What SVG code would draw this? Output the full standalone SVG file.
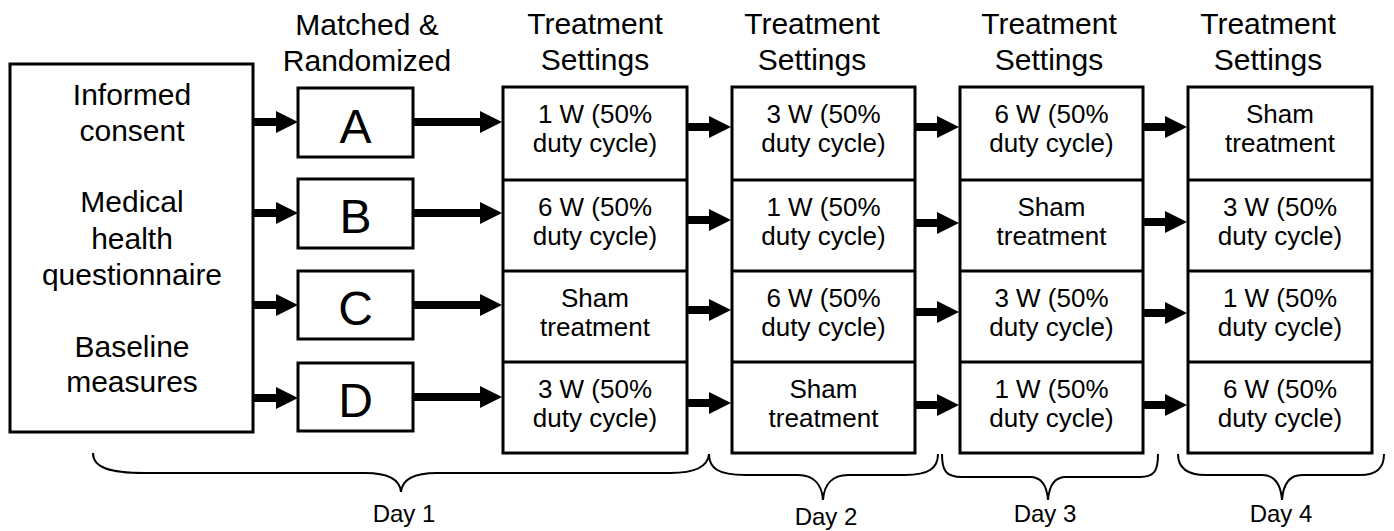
<svg xmlns="http://www.w3.org/2000/svg" width="1394" height="531" viewBox="0 0 1394 531">
<style>
text{font-family:"Liberation Sans",Arial,Helvetica,sans-serif;fill:#000;text-anchor:middle}
.hd{font-size:30px}
.lt{font-size:30px}
.bt{font-size:26px}
.big{font-size:48px}
.day{font-size:24px}
.box{fill:#fff;stroke:#000;stroke-width:3}
.div{stroke:#000;stroke-width:3}
.arr{stroke:#000;stroke-width:8;fill:none;marker-end:url(#ah)}
.brace{fill:none;stroke:#000;stroke-width:2}
</style>
<defs>
<marker id="ah" markerUnits="userSpaceOnUse" markerWidth="24" markerHeight="24" refX="2" refY="11" orient="auto" viewBox="0 0 24 24">
<path d="M0,0 L22,11 L0,22 z" fill="#000"/>
</marker>
</defs>
<rect width="1394" height="531" fill="#fff"/>

<g id="headers">
<text class="hd" x="367" y="35">Matched &amp;</text>
<text class="hd" x="367" y="71">Randomized</text>
<text class="hd" x="595" y="34">Treatment</text>
<text class="hd" x="595" y="70">Settings</text>
<text class="hd" x="812" y="34">Treatment</text>
<text class="hd" x="812" y="70">Settings</text>
<text class="hd" x="1049" y="34">Treatment</text>
<text class="hd" x="1049" y="70">Settings</text>
<text class="hd" x="1268" y="34">Treatment</text>
<text class="hd" x="1268" y="70">Settings</text>
</g>

<g id="intake">
<rect class="box" x="10" y="64" width="243" height="368"/>
<text class="lt" x="132" y="105">Informed</text>
<text class="lt" x="132" y="141">consent</text>
<text class="lt" x="132" y="212">Medical</text>
<text class="lt" x="132" y="249">health</text>
<text class="lt" x="132" y="285">questionnaire</text>
<text class="lt" x="132" y="357">Baseline</text>
<text class="lt" x="132" y="392">measures</text>
</g>

<g id="groupA"><rect class="box" x="298" y="88" width="115" height="69"/><text class="big" x="355.5" y="142.5">A</text></g>
<g id="groupB"><rect class="box" x="298" y="179" width="115" height="69"/><text class="big" x="355.5" y="233">B</text></g>
<g id="groupC"><rect class="box" x="298" y="271" width="115" height="68"/><text class="big" x="355.5" y="325">C</text></g>
<g id="groupD"><rect class="box" x="298" y="363" width="115" height="68"/><text class="big" x="355.5" y="417">D</text></g>

<g id="day1col">
<rect class="box" x="503" y="87" width="184" height="366"/>
<line class="div" x1="503" y1="180" x2="687" y2="180"/>
<line class="div" x1="503" y1="271" x2="687" y2="271"/>
<line class="div" x1="503" y1="362" x2="687" y2="362"/>
<text class="bt" x="595" y="123">1 W (50%</text><text class="bt" x="595" y="152">duty cycle)</text>
<text class="bt" x="595" y="216">6 W (50%</text><text class="bt" x="595" y="245">duty cycle)</text>
<text class="bt" x="595" y="307">Sham</text><text class="bt" x="595" y="336">treatment</text>
<text class="bt" x="595" y="398">3 W (50%</text><text class="bt" x="595" y="427">duty cycle)</text>
</g>

<g id="day2col">
<rect class="box" x="732" y="87" width="183" height="366"/>
<line class="div" x1="732" y1="180" x2="915" y2="180"/>
<line class="div" x1="732" y1="271" x2="915" y2="271"/>
<line class="div" x1="732" y1="362" x2="915" y2="362"/>
<text class="bt" x="823.5" y="123">3 W (50%</text><text class="bt" x="823.5" y="152">duty cycle)</text>
<text class="bt" x="823.5" y="216">1 W (50%</text><text class="bt" x="823.5" y="245">duty cycle)</text>
<text class="bt" x="823.5" y="307">6 W (50%</text><text class="bt" x="823.5" y="336">duty cycle)</text>
<text class="bt" x="823.5" y="398">Sham</text><text class="bt" x="823.5" y="427">treatment</text>
</g>

<g id="day3col">
<rect class="box" x="960" y="87" width="183" height="366"/>
<line class="div" x1="960" y1="180" x2="1143" y2="180"/>
<line class="div" x1="960" y1="271" x2="1143" y2="271"/>
<line class="div" x1="960" y1="362" x2="1143" y2="362"/>
<text class="bt" x="1051.5" y="123">6 W (50%</text><text class="bt" x="1051.5" y="152">duty cycle)</text>
<text class="bt" x="1051.5" y="216">Sham</text><text class="bt" x="1051.5" y="245">treatment</text>
<text class="bt" x="1051.5" y="307">3 W (50%</text><text class="bt" x="1051.5" y="336">duty cycle)</text>
<text class="bt" x="1051.5" y="398">1 W (50%</text><text class="bt" x="1051.5" y="427">duty cycle)</text>
</g>

<g id="day4col">
<rect class="box" x="1188" y="87" width="184" height="366"/>
<line class="div" x1="1188" y1="180" x2="1372" y2="180"/>
<line class="div" x1="1188" y1="271" x2="1372" y2="271"/>
<line class="div" x1="1188" y1="362" x2="1372" y2="362"/>
<text class="bt" x="1280" y="123">Sham</text><text class="bt" x="1280" y="152">treatment</text>
<text class="bt" x="1280" y="216">3 W (50%</text><text class="bt" x="1280" y="245">duty cycle)</text>
<text class="bt" x="1280" y="307">1 W (50%</text><text class="bt" x="1280" y="336">duty cycle)</text>
<text class="bt" x="1280" y="398">6 W (50%</text><text class="bt" x="1280" y="427">duty cycle)</text>
</g>

<g id="connectors">
<line class="arr" x1="254" y1="122" x2="278" y2="122"/>
<line class="arr" x1="254" y1="213" x2="278" y2="213"/>
<line class="arr" x1="254" y1="305" x2="278" y2="305"/>
<line class="arr" x1="254" y1="398" x2="278" y2="398"/>
<line class="arr" x1="414" y1="122" x2="482" y2="122"/>
<line class="arr" x1="414" y1="213" x2="482" y2="213"/>
<line class="arr" x1="414" y1="305" x2="482" y2="305"/>
<line class="arr" x1="414" y1="397" x2="482" y2="397"/>
<line class="arr" x1="688" y1="127" x2="711" y2="127"/>
<line class="arr" x1="688" y1="220" x2="711" y2="220"/>
<line class="arr" x1="688" y1="310" x2="711" y2="310"/>
<line class="arr" x1="688" y1="403" x2="711" y2="403"/>
<line class="arr" x1="916" y1="127" x2="939" y2="127"/>
<line class="arr" x1="916" y1="223" x2="939" y2="223"/>
<line class="arr" x1="916" y1="312" x2="939" y2="312"/>
<line class="arr" x1="916" y1="405" x2="939" y2="405"/>
<line class="arr" x1="1144" y1="127" x2="1167" y2="127"/>
<line class="arr" x1="1144" y1="222" x2="1167" y2="222"/>
<line class="arr" x1="1144" y1="313" x2="1167" y2="313"/>
<line class="arr" x1="1144" y1="405" x2="1167" y2="405"/>
</g>

<g id="braces">
<path class="brace" d="M93,453 C93,467 108,473 145,473 L365,473 C390,473 400,480 401,492 C402,480 412,473 437,473 L670,473 C695,473 708,466 709,454"/>
<path class="brace" d="M709,454 C709,468 718,475 745,475 L798,475 C814,475 822,485 823,500 C824,485 832,475 848,475 L905,475 C929,475 938,468 938,454"/>
<path class="brace" d="M942,454 C942,471 946,477 962,477 L1030,477 C1042,477 1047,487 1048,500 C1049,487 1054,477 1066,477 L1140,477 C1155,477 1158,470 1158,454"/>
<path class="brace" d="M1178,454 C1178,468 1188,475 1206,475 L1262,475 C1276,475 1281,487 1282,500 C1283,487 1288,475 1302,475 L1360,475 C1377,475 1384,468 1384,454"/>
</g>

<g id="daylabels">
<text class="day" x="404" y="522">Day 1</text>
<text class="day" x="826" y="525">Day 2</text>
<text class="day" x="1045" y="522">Day 3</text>
<text class="day" x="1281" y="522">Day 4</text>
</g>
</svg>
